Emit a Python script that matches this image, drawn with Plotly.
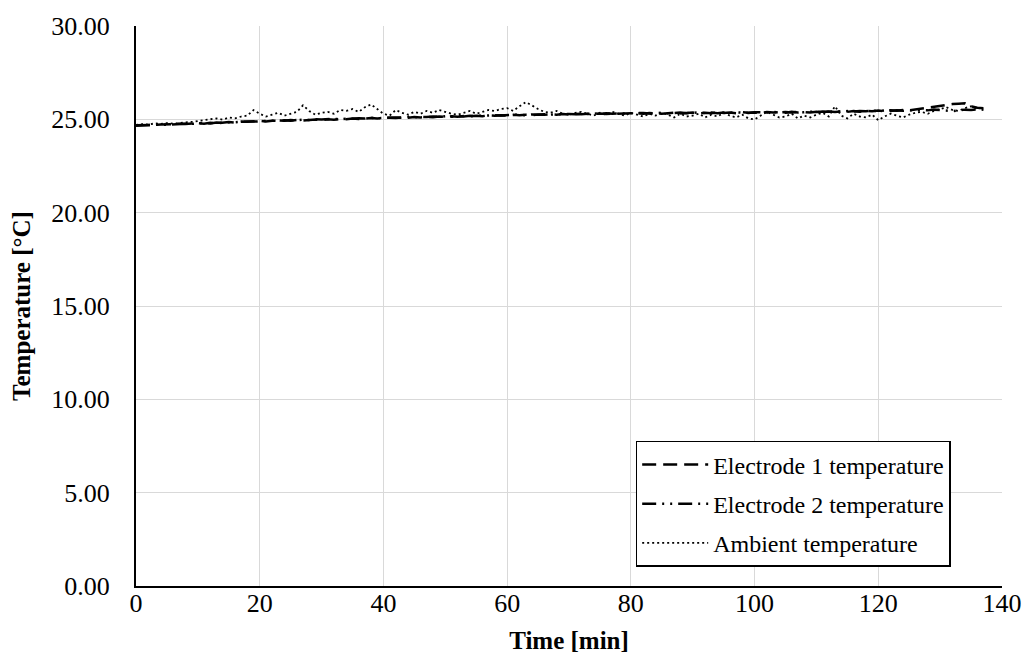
import plotly.graph_objects as go

time_min = list(range(0, 138))

electrode1 = [
    24.68, 24.70, 24.69, 24.71, 24.72, 24.74, 24.73, 24.76, 24.75, 24.78,
    24.80, 24.77, 24.82, 24.79, 24.84, 24.86, 24.83, 24.88, 24.87, 24.90,
    24.92, 24.89, 24.93, 24.91, 24.95, 24.93, 24.96, 24.94, 24.97, 24.99,
    24.96, 25.00, 24.98, 25.02, 25.01, 25.04, 25.02, 25.05, 25.07, 25.04,
    25.06, 25.09, 25.07, 25.10, 25.08, 25.12, 25.10, 25.13, 25.11, 25.15,
    25.13, 25.16, 25.14, 25.18, 25.16, 25.19, 25.17, 25.21, 25.19, 25.22,
    25.20, 25.24, 25.22, 25.25, 25.23, 25.26, 25.24, 25.27, 25.25, 25.28,
    25.26, 25.29, 25.27, 25.30, 25.28, 25.31, 25.29, 25.30, 25.32, 25.29,
    25.31, 25.33, 25.30, 25.34, 25.32, 25.30, 25.33, 25.35, 25.31, 25.34,
    25.36, 25.32, 25.35, 25.33, 25.37, 25.34, 25.36, 25.33, 25.38, 25.35,
    25.37, 25.34, 25.39, 25.36, 25.38, 25.35, 25.40, 25.37, 25.39, 25.36,
    25.41, 25.38, 25.42, 25.39, 25.43, 25.40, 25.44, 25.41, 25.45, 25.43,
    25.47, 25.44, 25.48, 25.46, 25.50, 25.48, 25.53, 25.58, 25.63, 25.70,
    25.75, 25.78, 25.82, 25.84, 25.86, 25.70, 25.62, 25.60,
]

electrode2 = [
    24.66, 24.68, 24.70, 24.69, 24.72, 24.71, 24.74, 24.73, 24.77, 24.76,
    24.79, 24.81, 24.78, 24.83, 24.81, 24.85, 24.84, 24.87, 24.89, 24.88,
    24.90, 24.93, 24.91, 24.94, 24.92, 24.96, 24.95, 24.98, 24.96, 25.00,
    24.99, 25.01, 25.03, 25.00, 25.04, 25.03, 25.06, 25.04, 25.08, 25.06,
    25.08, 25.07, 25.10, 25.09, 25.12, 25.10, 25.14, 25.12, 25.15, 25.13,
    25.16, 25.14, 25.17, 25.15, 25.19, 25.18, 25.20, 25.18, 25.22, 25.21,
    25.23, 25.21, 25.25, 25.22, 25.26, 25.24, 25.27, 25.25, 25.28, 25.26,
    25.29, 25.27, 25.30, 25.28, 25.31, 25.29, 25.32, 25.30, 25.31, 25.33,
    25.30, 25.32, 25.34, 25.31, 25.33, 25.35, 25.32, 25.34, 25.36, 25.33,
    25.35, 25.37, 25.34, 25.36, 25.33, 25.37, 25.35, 25.38, 25.36, 25.34,
    25.38, 25.36, 25.37, 25.40, 25.37, 25.39, 25.36, 25.40, 25.38, 25.41,
    25.39, 25.42, 25.40, 25.43, 25.41, 25.44, 25.42, 25.45, 25.43, 25.46,
    25.44, 25.47, 25.45, 25.48, 25.46, 25.49, 25.47, 25.50, 25.48, 25.52,
    25.50, 25.46, 25.44, 25.48, 25.52, 25.50, 25.54, 25.52,
]

ambient = [
    24.70, 24.74, 24.72, 24.78, 24.76, 24.80, 24.77, 24.82, 24.84, 24.86,
    24.90, 24.95, 25.00, 25.05, 24.98, 25.10, 25.05, 25.15, 25.20, 25.50,
    25.30, 25.15, 25.25, 25.35, 25.20, 25.30, 25.40, 25.75, 25.45, 25.25,
    25.35, 25.40, 25.30, 25.50, 25.45, 25.55, 25.40, 25.65, 25.80, 25.55,
    25.30, 25.20, 25.50, 25.35, 25.25, 25.40, 25.30, 25.45, 25.35, 25.50,
    25.40, 25.30, 25.25, 25.35, 25.45, 25.30, 25.40, 25.50, 25.45, 25.55,
    25.60, 25.45, 25.70, 25.92, 25.75, 25.55, 25.40, 25.35, 25.45, 25.30,
    25.25, 25.35, 25.40, 25.30, 25.20, 25.35, 25.25, 25.40, 25.30, 25.20,
    25.35, 25.25, 25.15, 25.30, 25.20, 25.35, 25.25, 25.10, 25.30, 25.15,
    25.20, 25.30, 25.10, 25.25, 25.15, 25.35, 25.20, 25.10, 25.25, 25.05,
    25.00, 25.20, 25.40, 25.25, 25.10, 25.15, 25.30, 25.05, 25.20, 25.10,
    25.25, 25.35, 25.15, 25.70, 25.20, 25.05, 25.30, 25.15, 25.10, 25.25,
    24.95, 25.15, 25.30, 25.20, 25.10, 25.25, 25.35, 25.40, 25.30, 25.45,
    25.55, 25.65, 25.50, 25.45, 25.60, 25.70, 25.55, 25.65,
]

series_names = ["Electrode 1 temperature", "Electrode 2 temperature", "Ambient temperature"]

fig = go.Figure()
fig.add_trace(go.Scatter(x=time_min, y=electrode1, mode="lines", name=series_names[0],
                         legendgroup="e1",
                         line=dict(color="black", width=2.5, dash="14px,7px")))
fig.add_trace(go.Scatter(x=time_min, y=electrode2, mode="lines", name=series_names[1],
                         legendgroup="e2",
                         line=dict(color="black", width=2.5, dash="14px,6px,2px,6px,2px,6px")))
fig.add_trace(go.Scatter(x=time_min, y=ambient, mode="lines", name=series_names[2],
                         legendgroup="amb",
                         line=dict(color="black", width=1.8, dash="2px,3px")))

font_family = "Liberation Serif, Times New Roman, serif"

fig.update_xaxes(
    range=[0, 140], dtick=20, tick0=0, automargin=False,
    showgrid=True, gridcolor="#d9d9d9", gridwidth=1,
    showline=True, linecolor="black", linewidth=2,
    zeroline=False, ticks="", ticklabelstandoff=-7, ticklabeloverflow="allow",
    tickfont=dict(family=font_family, size=26, color="black"),
    title=dict(text="<b>Time [min]</b>", font=dict(family=font_family, size=25, color="black"), standoff=14),
)
fig.update_yaxes(
    range=[0, 30], dtick=5, tick0=0, tickformat=".2f", automargin=False,
    showgrid=True, gridcolor="#d9d9d9", gridwidth=1,
    showline=True, linecolor="black", linewidth=2,
    zeroline=False, ticks="", ticklabelstandoff=19,
    tickfont=dict(family=font_family, size=26, color="black"),
    title=dict(text="<b>Temperature [°C]</b>", font=dict(family=font_family, size=25, color="black"), standoff=16),
)

# page body has an 8px margin, so size the figure to fit the window without scrolling
fig.update_layout(
    width=1015, height=646,
    margin=dict(l=128, r=21, t=18, b=68),
    paper_bgcolor="white", plot_bgcolor="white",
    font=dict(family=font_family, color="black"),
    legend=dict(
        x=0.577, y=0.259, xanchor="left", yanchor="top",
        bgcolor="white", bordercolor="black", borderwidth=1.5,
        font=dict(family=font_family, size=24, color="black"),
        tracegroupgap=5, itemwidth=66,
    ),
)

fig.write_html("out.html")
